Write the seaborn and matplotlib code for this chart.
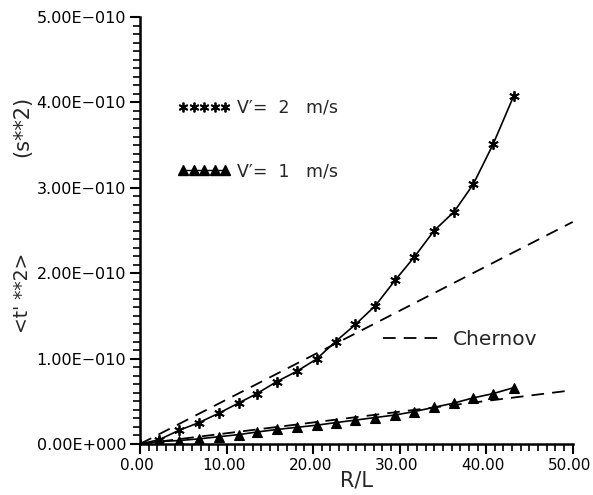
import matplotlib
matplotlib.use("Agg")
import matplotlib.pyplot as plt
from matplotlib.lines import Line2D
from matplotlib.ticker import MultipleLocator
from matplotlib.transforms import ScaledTranslation
import numpy as np
import pandas as pd
import seaborn as sns

# ---- data ----
r_over_l = [0.0, 2.2, 4.5, 6.8, 9.1, 11.4, 13.5, 15.8, 18.1, 20.4,
            22.6, 24.9, 27.2, 29.5, 31.7, 34.0, 36.3, 38.5, 40.8, 43.2]
t2_v2 = [0.0, 0.05, 0.16, 0.25, 0.36, 0.48, 0.59, 0.73, 0.85, 0.995,
         1.20, 1.40, 1.62, 1.92, 2.19, 2.50, 2.72, 3.04, 3.51, 4.08]   # x1e-10
t2_v1 = [0.0, 0.03, 0.04, 0.06, 0.085, 0.11, 0.14, 0.17, 0.195, 0.22,
         0.25, 0.28, 0.31, 0.34, 0.38, 0.43, 0.48, 0.54, 0.59, 0.66]  # x1e-10
chernov_x = [0.0, 50.0]
chernov_v2 = [0.0, 2.60]   # x1e-10
chernov_v1 = [0.0, 0.63]   # x1e-10

x_ticks = [0, 10, 20, 30, 40, 50]
x_tick_labels = ["0.00", "10.00", "20.00", "30.00", "40.00", "50.00"]
y_ticks = [0e-10, 1e-10, 2e-10, 3e-10, 4e-10, 5e-10]
y_tick_labels = ["0.00E+000", "1.00E\u2212010", "2.00E\u2212010",
                 "3.00E\u2212010", "4.00E\u2212010", "5.00E\u2212010"]

label_v2 = "V\u2032=  2   m/s"
label_v1 = "V\u2032=  1   m/s"
label_ch = "Chernov"

scale = 1e-10
df2 = pd.DataFrame({"x": r_over_l, "y": np.array(t2_v2) * scale})
df1 = pd.DataFrame({"x": r_over_l, "y": np.array(t2_v1) * scale})
dfc2 = pd.DataFrame({"x": chernov_x, "y": np.array(chernov_v2) * scale})
dfc1 = pd.DataFrame({"x": chernov_x, "y": np.array(chernov_v1) * scale})

sns.set_theme(style="ticks")
plt.rcParams["font.family"] = ["DejaVu Sans"]

fig = plt.figure(figsize=(5.93, 4.95), dpi=100)
ax = fig.add_axes([140 / 593, 1 - 444 / 495, 432.7 / 593, 427 / 495])

asterisk = (6, 2, 0)
dash = (7, 4.5)

sns.lineplot(data=dfc2, x="x", y="y", ax=ax, color="black", lw=1.3,
             linestyle=(0, dash))
sns.lineplot(data=dfc1, x="x", y="y", ax=ax, color="black", lw=1.3,
             linestyle=(0, dash))
sns.lineplot(data=df2, x="x", y="y", ax=ax, color="black", lw=1.2,
             marker=asterisk, markersize=7.5, markeredgecolor="black",
             markeredgewidth=1.3)
sns.lineplot(data=df1, x="x", y="y", ax=ax, color="black", lw=1.2,
             marker="^", markersize=6.5, markeredgecolor="black",
             markerfacecolor="black", markeredgewidth=0.8)

ax.set_xlim(0, 50)
ax.set_ylim(0, 5e-10)
ax.set_xticks(x_ticks)
ax.set_xticklabels(x_tick_labels, fontsize=11)
ax.set_yticks(y_ticks)
ax.set_yticklabels(y_tick_labels, fontsize=11.5)
ax.xaxis.set_minor_locator(MultipleLocator(1))
ax.yaxis.set_minor_locator(MultipleLocator(1e-11))
ax.tick_params(which="major", direction="out", length=7, width=1.5,
               color="black", labelcolor="black", pad=3)
ax.tick_params(which="minor", direction="out", length=5, width=1.2,
               color="black")
for side in ["top", "right"]:
    ax.spines[side].set_visible(False)
for side in ["left", "bottom"]:
    ax.spines[side].set_linewidth(1.8)
    ax.spines[side].set_color("black")
# the reference's x tick labels sit slightly left of their ticks
shift = ScaledTranslation(-3 / 100, 0, fig.dpi_scale_trans)
for t in ax.get_xticklabels():
    t.set_transform(t.get_transform() + shift)

ax.set_xlabel("R/L", fontsize=15, labelpad=-2)
ax.set_ylabel("")
fig.text(22 / 593, 1 - 126 / 495, "(s**2)", rotation=90, fontsize=15,
         ha="center", va="center")
fig.text(22 / 593, 1 - 293 / 495, "<t' **2>", rotation=90, fontsize=13.5,
         ha="center", va="center")

h2 = Line2D([], [], color="black", linestyle="none", marker=asterisk,
            markersize=7, markeredgewidth=1.3, markeredgecolor="black")
h1 = Line2D([], [], color="black", linestyle="-", lw=1.0, marker="^",
            markersize=6.5, markerfacecolor="black", markeredgecolor="black")
leg1 = ax.legend([h2, h1], [label_v2, label_v1], loc="upper left",
                 bbox_to_anchor=(0.088, 0.808), frameon=False, numpoints=5,
                 handlelength=3.0, handletextpad=0.4, labelspacing=2.6,
                 borderpad=0, borderaxespad=0, fontsize=12.5)
ax.add_artist(leg1)
hc = Line2D([], [], color="black", lw=1.3, linestyle=(0, dash))
ax.legend([hc], [label_ch], loc="upper left", bbox_to_anchor=(0.562, 0.266),
          frameon=False, handlelength=2.7, handletextpad=0.75, borderpad=0,
          borderaxespad=0, fontsize=14.5)

fig.savefig("out.png", dpi=100)
